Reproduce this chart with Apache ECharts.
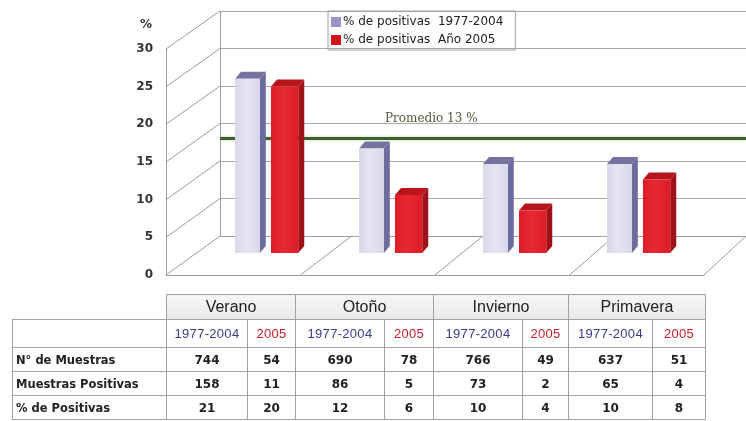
<!DOCTYPE html>
<html><head><meta charset="utf-8">
<script src="https://cdn.jsdelivr.net/npm/echarts/dist/echarts.min.js"></script>
<style>
html,body{margin:0;padding:0;background:#fff;}
#wrap{position:relative;width:746px;height:421px;overflow:hidden;background:#fff;}
#chart{position:absolute;left:0;top:0;width:746px;height:421px;}
#tbl{position:absolute;left:12px;top:294px;border-collapse:collapse;table-layout:fixed;font-family:'DejaVu Sans',sans-serif;}
#tbl td{border:1px solid #a3a3a3;padding:0;text-align:center;white-space:nowrap;overflow:hidden;}
#tbl td.blank{border-top:none;border-left:none;}
#tbl td.season{background:linear-gradient(#f6f6f6,#e8e8e8);font-family:'Liberation Sans',Arial,sans-serif;font-size:16px;color:#222;}
#tbl td.per{font-family:'Liberation Sans',Arial,sans-serif;font-size:13px;letter-spacing:0.3px;}
#tbl td.lab{text-align:left;padding-left:3px;font-weight:bold;font-size:11.5px;color:#222;}
#tbl td.v{font-weight:bold;font-size:12px;color:#222;}
#tbl .c1{color:#3a3a8c;}
#tbl .c2{color:#c81e2a;}
</style></head><body>
<div id="wrap"><div id="chart"></div><table id="tbl"></table></div>
<script>
// ---------- data ----------
const categories = ['Verano', 'Otoño', 'Invierno', 'Primavera'];
const seriesNames = ['% de positivas  1977-2004', '% de positivas  Año 2005'];
const pct19772004 = [21, 12, 10, 10];
const pct2005 = [20, 6, 4, 8];
const average = 13;
const averageLabel = 'Promedio 13 %';
const yMin = 0, yMax = 30, yStep = 5;
const periodLabels = ['1977-2004', '2005'];
const rowLabels = ['N° de Muestras', 'Muestras Positivas', '% de Positivas'];
const muestras19772004 = [744, 690, 766, 637];
const muestras2005 = [54, 78, 49, 51];
const positivas19772004 = [158, 86, 73, 65];
const positivas2005 = [11, 5, 2, 4];

// ---------- layout / style ----------
const FRONT = {left: 166, right: 42, top: 49, bottom: 146};
const BACK = {left: 220, right: -12, top: 11, bottom: 185};
const BARG = {left: 206, right: 44, top: 9, bottom: 168};
const BAR_AXIS_MIN = -1.5;
const DX = 6, DY = -7;
const BAR_STYLE = [
  {offset: -0.266, width: 0.2, front: '#d8d8ea', frontHi: '#e4e4f2', side: '#6c6c9e', top: '#74729f', legend: '#9896c4'},
  {offset: 0.024, width: 0.22, front: '#dd1d26', frontHi: '#e62a31', side: '#a0121a', top: '#b8141c', legend: '#d3121e'}
];
const AXIS_COLOR = '#a0a0a0';

function bar3d(st) {
  return function (params, api) {
    const i = api.value(0), v = api.value(1);
    const top = api.coord([i, v]);
    const base = api.coord([i, BAR_AXIS_MIN]);
    const bw = api.size([1, 0])[0];
    const x0 = top[0] + st.offset * bw, w = st.width * bw;
    const yT = top[1], yB = base[1];
    return {
      type: 'group', children: [
        {type: 'polygon', shape: {points: [[x0 + w, yT], [x0 + w + DX, yT + DY], [x0 + w + DX, yB + DY], [x0 + w, yB]]}, style: {fill: st.side}},
        {type: 'polygon', shape: {points: [[x0, yT], [x0 + DX, yT + DY], [x0 + w + DX, yT + DY], [x0 + w, yT]]}, style: {fill: st.top}},
        {type: 'rect', shape: {x: x0, y: yT, width: w, height: yB - yT},
          style: {fill: new echarts.graphic.LinearGradient(0, 0, 1, 0, [
            {offset: 0, color: st.front}, {offset: 0.45, color: st.frontHi}, {offset: 1, color: st.front}])}}
      ]
    };
  };
}

const chart = echarts.init(document.getElementById('chart'), null, {renderer: 'canvas'});
const option = {
  animation: false,
  backgroundColor: 'transparent',
  legend: {
    data: seriesNames, orient: 'vertical', left: 328, top: 11,
    icon: 'rect', itemWidth: 10, itemHeight: 10, itemGap: 6,
    padding: [5, 12, 4, 3], borderColor: '#a0a0a0', borderWidth: 1,
    textStyle: {fontFamily: 'DejaVu Sans', fontSize: 12, color: '#222', padding: [0, 0, 0, -3]}
  },
  grid: [
    Object.assign({}, FRONT),
    Object.assign({}, BACK),
    Object.assign({}, BARG)
  ],
  xAxis: [
    {type: 'category', gridIndex: 0, data: categories, axisLine: {show: true, lineStyle: {color: AXIS_COLOR}}, axisTick: {show: false}, axisLabel: {show: false}},
    {type: 'category', gridIndex: 1, data: categories, axisLine: {show: true, lineStyle: {color: AXIS_COLOR}}, axisTick: {show: false}, axisLabel: {show: false}},
    {type: 'category', gridIndex: 2, data: categories, show: false}
  ],
  yAxis: [
    {type: 'value', gridIndex: 0, min: yMin, max: yMax, interval: yStep,
      name: '%', nameLocation: 'end', nameGap: 18,
      nameTextStyle: {fontFamily: 'DejaVu Sans', fontWeight: 'bold', fontSize: 12, color: '#333', align: 'right', padding: [0, 14, 0, 0]},
      axisLine: {show: true, lineStyle: {color: AXIS_COLOR}}, axisTick: {show: false}, splitLine: {show: false},
      axisLabel: {margin: 13, fontFamily: 'DejaVu Sans', fontWeight: 'bold', fontSize: 12, color: '#333'}},
    {type: 'value', gridIndex: 1, min: yMin, max: yMax, interval: yStep,
      axisLine: {show: true, lineStyle: {color: AXIS_COLOR}}, axisTick: {show: false}, axisLabel: {show: false},
      splitLine: {show: true, lineStyle: {color: '#a8a8a8', width: 1}}},
    {type: 'value', gridIndex: 2, min: BAR_AXIS_MIN, max: yMax, show: false}
  ],
  series: [
    {type: 'custom', name: seriesNames[0], xAxisIndex: 2, yAxisIndex: 2, z: 5,
      itemStyle: {color: BAR_STYLE[0].legend},
      renderItem: bar3d(BAR_STYLE[0]), encode: {x: 0, y: 1},
      data: categories.map((c, i) => [i, pct19772004[i]])},
    {type: 'custom', name: seriesNames[1], xAxisIndex: 2, yAxisIndex: 2, z: 5,
      itemStyle: {color: BAR_STYLE[1].legend},
      renderItem: bar3d(BAR_STYLE[1]), encode: {x: 0, y: 1},
      data: categories.map((c, i) => [i, pct2005[i]])},
    {type: 'line', name: 'avg', xAxisIndex: 1, yAxisIndex: 1, data: [], z: 6, silent: true,
      markLine: {symbol: 'none', silent: true, label: {show: false},
        lineStyle: {color: '#3e5e30', width: 3, type: 'solid', shadowColor: 'rgba(170,215,140,0.9)', shadowBlur: 3},
        data: [{yAxis: average}]}}
  ]
};
chart.setOption(option);

// 3D walls: connect front frame to back frame using the axes' own scales
(function () {
  const yF = v => chart.convertToPixel({yAxisIndex: 0}, v);
  const yB = v => chart.convertToPixel({yAxisIndex: 1}, v);
  const xF = c => chart.convertToPixel({xAxisIndex: 0}, c);
  const xB = c => chart.convertToPixel({xAxisIndex: 1}, c);
  const bwF = xF(categories[1]) - xF(categories[0]);
  const bwB = xB(categories[1]) - xB(categories[0]);
  const g = [];
  const ln = (p1, p2) => ({type: 'line', z: 1, silent: true, shape: {x1: p1[0], y1: p1[1], x2: p2[0], y2: p2[1]}, style: {stroke: '#9a9a9a', lineWidth: 1}});
  const fl = xF(categories[0]) - bwF / 2, bl = xB(categories[0]) - bwB / 2;
  for (let v = yMin; v <= yMax; v += yStep) g.push(ln([fl, yF(v)], [bl, yB(v)]));
  for (let k = 1; k <= categories.length; k++) g.push(ln([fl + k * bwF, yF(yMin)], [bl + k * bwB, yB(yMin)]));
  g.push({type: 'text', z: 7, silent: true,
    x: xB(categories[1]) + 14, y: yB(average) - 20,
    style: {text: averageLabel, fill: '#545a3a', font: '12px "DejaVu Serif", serif', align: 'center', verticalAlign: 'middle'}});
  chart.setOption({graphic: g});
})();

// table
(function () {
  const widths = [154, 81, 48, 89, 49, 89, 46, 84, 53];
  const heights = [25, 28, 24, 24, 24];
  let h = '<colgroup>' + widths.map(w => '<col style="width:' + w + 'px">').join('') + '</colgroup>';
  h += '<tr style="height:' + heights[0] + 'px"><td class="blank"></td>' + categories.map(c => '<td class="season" colspan="2">' + c + '</td>').join('') + '</tr>';
  h += '<tr style="height:' + heights[1] + 'px"><td></td>' + categories.map(() => '<td class="per c1">' + periodLabels[0] + '</td><td class="per c2">' + periodLabels[1] + '</td>').join('') + '</tr>';
  const rows = [[muestras19772004, muestras2005], [positivas19772004, positivas2005], [pct19772004, pct2005]];
  rows.forEach((r, k) => {
    h += '<tr style="height:' + heights[k + 2] + 'px"><td class="lab">' + rowLabels[k] + '</td>' +
      categories.map((c, i) => '<td class="v">' + r[0][i] + '</td><td class="v c2">' + r[1][i] + '</td>').join('') + '</tr>';
  });
  document.getElementById('tbl').innerHTML = h;
})();
</script>
</body></html>
